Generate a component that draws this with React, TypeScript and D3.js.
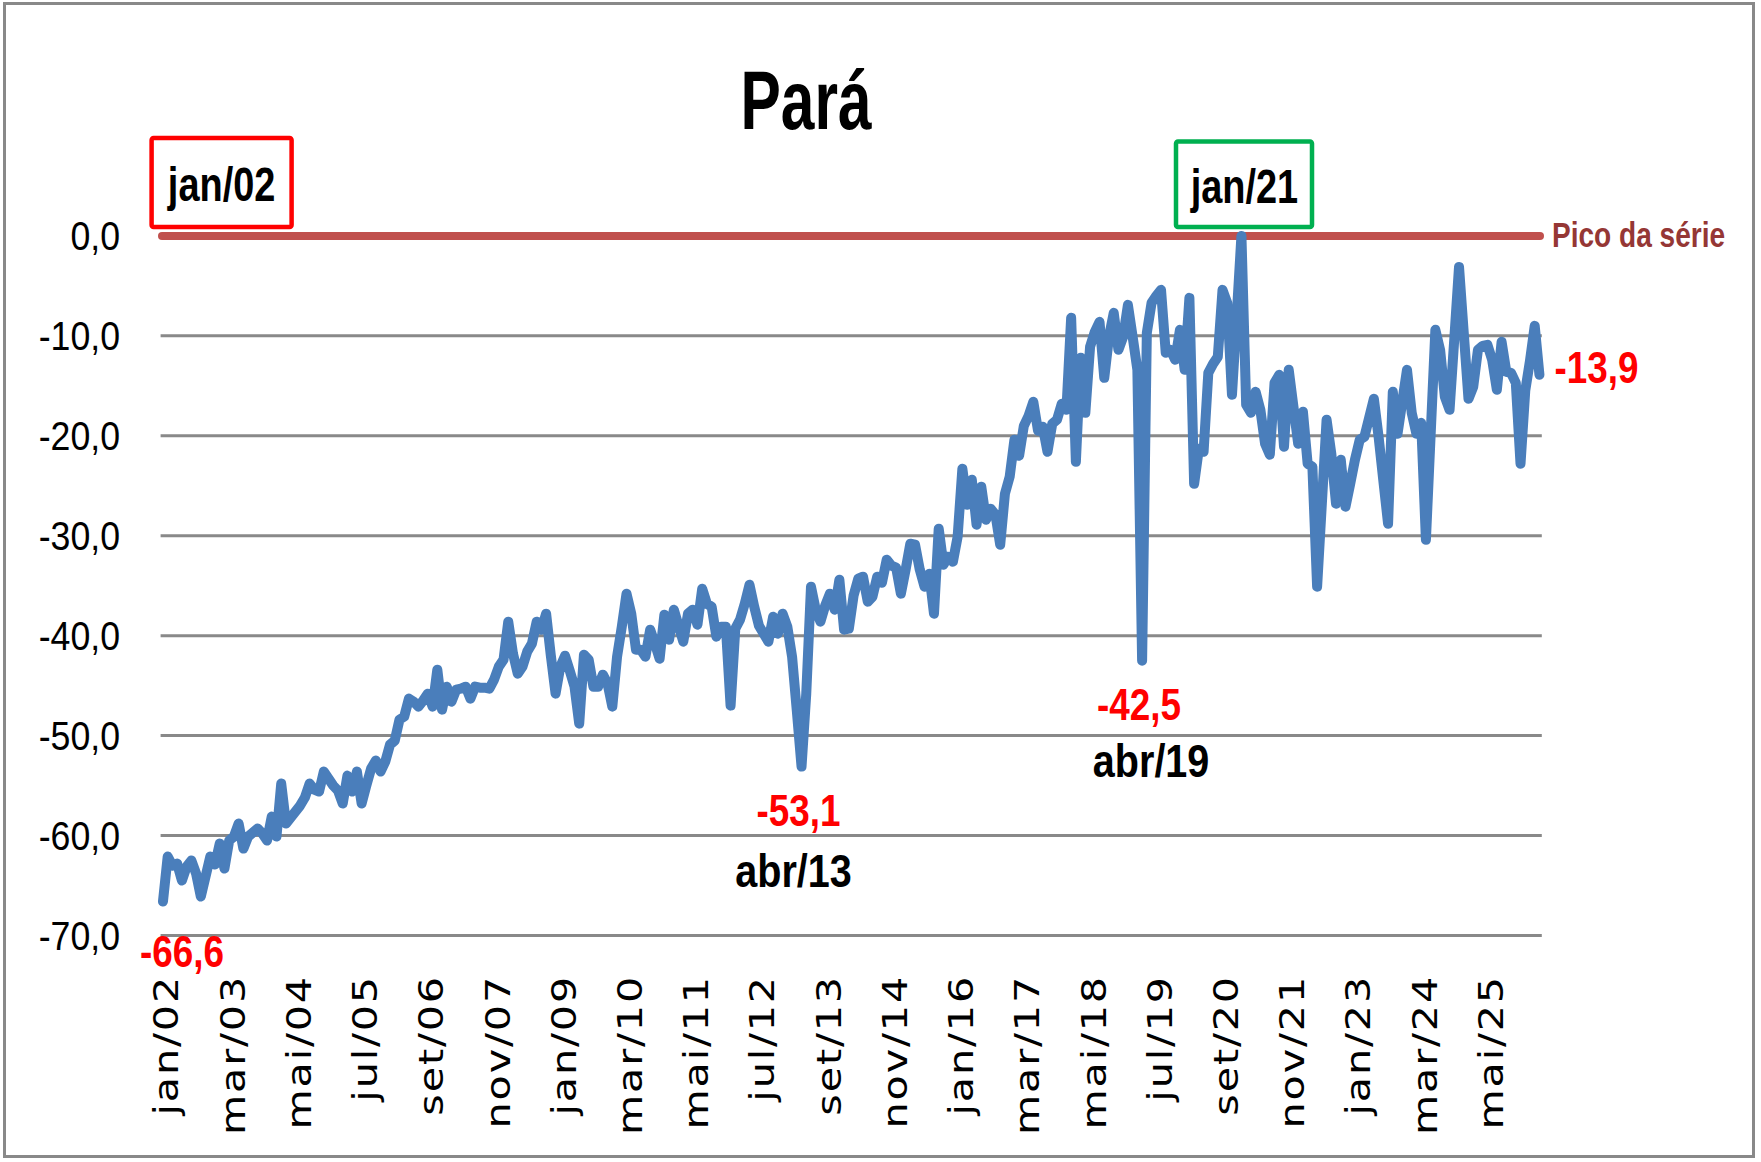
import React from 'react';
import * as d3 from 'd3';

const MONTHS = ['jan', 'fev', 'mar', 'abr', 'mai', 'jun', 'jul', 'ago', 'set', 'out', 'nov', 'dez'];
const START_YEAR = 2002;

// Monthly series, jan/02 .. abr/26 (one row per year)
const values: number[] = [
  -66.6, -62.1, -63.0, -62.8, -64.5, -63.1, -62.5, -63.8, -66.1, -64.1, -62.1, -62.9,
  -60.8, -63.3, -60.5, -60.1, -58.8, -61.3, -60.1, -59.7, -59.3, -59.8, -60.5, -58.1,
  -60.1, -54.8, -58.8, -58.2, -57.6, -57.0, -56.2, -54.8, -55.4, -55.6, -53.6, -54.3,
  -55.0, -55.5, -56.8, -54.0, -55.6, -53.6, -56.8, -55.0, -53.3, -52.5, -53.6, -52.6,
  -50.9, -50.5, -48.4, -48.1, -46.3, -46.6, -47.1, -46.5, -45.8, -47.1, -43.4, -47.4,
  -45.1, -46.6, -45.4, -45.3, -45.1, -46.3, -45.1, -45.2, -45.2, -45.3, -44.4, -43.1,
  -42.4, -38.6, -41.8, -43.8, -43.1, -41.6, -40.8, -38.6, -39.4, -37.8, -42.0, -45.8,
  -43.1, -42.0, -43.5, -45.1, -48.8, -41.9, -42.4, -45.1, -45.1, -43.9, -44.8, -47.1,
  -42.1, -39.1, -35.8, -37.8, -41.4, -41.4, -42.1, -39.4, -40.8, -42.3, -37.9, -40.4,
  -37.4, -39.0, -40.6, -37.8, -37.4, -38.9, -35.3, -36.8, -37.1, -40.1, -39.1, -39.1,
  -47.0, -39.3, -38.4, -36.8, -34.9, -37.1, -39.0, -39.8, -40.6, -38.1, -39.8, -37.8,
  -39.1, -42.1, -47.5, -53.1, -45.8, -35.1, -37.4, -38.6, -37.0, -35.8, -37.4, -34.4,
  -39.4, -39.3, -36.0, -34.3, -34.1, -36.6, -36.1, -34.1, -34.7, -32.4, -33.0, -33.2,
  -35.8, -33.4, -30.8, -30.9, -33.4, -35.1, -33.8, -37.8, -29.3, -32.9, -32.1, -32.6,
  -30.1, -23.3, -26.9, -24.4, -28.9, -25.1, -28.4, -27.3, -27.9, -30.9, -25.8, -24.1,
  -20.4, -22.0, -19.0, -18.0, -16.6, -19.5, -19.1, -21.6, -18.8, -18.4, -16.8, -17.4,
  -8.2, -22.6, -12.2, -17.7, -11.1, -9.6, -8.6, -14.2, -10.1, -7.7, -11.4, -10.1,
  -6.9, -10.1, -13.4, -42.5, -9.7, -6.7, -6.0, -5.4, -11.7, -11.4, -12.4, -9.4,
  -13.4, -6.2, -24.8, -21.3, -21.6, -13.7, -12.8, -12.1, -5.4, -6.7, -15.9, -8.0,
  0.0, -16.9, -17.7, -15.6, -17.4, -20.8, -21.9, -14.7, -13.9, -21.1, -13.4, -17.1,
  -20.8, -17.6, -22.8, -23.1, -35.1, -26.8, -18.4, -21.8, -26.8, -22.4, -27.1, -24.8,
  -22.4, -20.4, -20.1, -18.2, -16.3, -20.1, -24.5, -28.8, -15.6, -19.8, -16.6, -13.4,
  -17.7, -19.8, -18.7, -30.4, -19.9, -9.4, -11.4, -16.1, -17.4, -10.3, -3.1, -9.7,
  -16.3, -15.1, -11.4, -11.0, -10.9, -12.4, -15.4, -10.6, -13.6, -13.7, -14.7, -22.8,
  -15.5, -12.5, -9.0, -13.9,
];

const categories: string[] = values.map(
  (_, i) => `${MONTHS[i % 12]}/${String((START_YEAR + Math.floor(i / 12)) % 100).padStart(2, '0')}`
);

const xTickLabels = [
  'jan/02', 'mar/03', 'mai/04', 'jul/05', 'set/06', 'nov/07', 'jan/09', 'mar/10', 'mai/11', 'jul/12',
  'set/13', 'nov/14', 'jan/16', 'mar/17', 'mai/18', 'jul/19', 'set/20', 'nov/21', 'jan/23', 'mar/24', 'mai/25',
];
const yTicks = [0, -10, -20, -30, -40, -50, -60, -70];
const peakValue = 0;
const title = 'Pará';
const peakLabel = 'Pico da série';

const fmt = (v: number) => v.toFixed(1).replace('.', ',');

const SANS = "'Liberation Sans', Arial, sans-serif";

type TProps = {
  x: number;
  y: number;
  sx: number;
  size: number;
  anchor?: 'start' | 'middle' | 'end';
  bold?: boolean;
  fill?: string;
  children: React.ReactNode;
};

function T({ x, y, sx, size, anchor = 'middle', bold = false, fill = '#000', children }: TProps) {
  return (
    <text
      transform={`translate(${x},${y}) scale(${sx},1)`}
      textAnchor={anchor}
      dominantBaseline="central"
      fontFamily={SANS}
      fontWeight={bold ? 'bold' : 'normal'}
      fontSize={size}
      fill={fill}
    >
      {children}
    </text>
  );
}

export default function App() {
  const W = 1761;
  const H = 1162;
  const x = d3.scalePoint<string>().domain(categories).range([160.6, 1541.8]).padding(0.5);
  const y = d3.scaleLinear().domain([-70, 0]).range([935.5, 235.9]);
  const line = d3
    .line<number>()
    .x((_, i) => x(categories[i]) as number)
    .y((d) => y(d))
    .curve(d3.curveLinear);

  const px = (c: string) => x(c) as number;
  const first = categories[0];
  const last = categories[categories.length - 1];
  const idxMin13 = categories.indexOf('abr/13');
  const idxMin19 = categories.indexOf('abr/19');
  const idxPeak = categories.indexOf('jan/21');

  return (
    <svg
      width={W}
      height={H}
      style={{ position: 'absolute', left: 0, top: 0, display: 'block', background: '#fff' }}
    >
      <rect x={0} y={0} width={W} height={H} fill="#fff" />
      <rect x={4.5} y={3.5} width={1749} height={1153} fill="none" stroke="#898989" strokeWidth={3} />

      <T x={806} y={100} sx={0.72} size={84} bold>
        {title}
      </T>

      {/* gridlines */}
      {yTicks.filter((t) => t !== 0).map((t) => (
        <line key={t} x1={160.6} x2={1541.8} y1={y(t)} y2={y(t)} stroke="#898989" strokeWidth={3} />
      ))}

      {/* y tick labels */}
      {yTicks.map((t) => (
        <T key={t} x={120} y={y(t)} sx={0.87} size={41} anchor="end">
          {fmt(t)}
        </T>
      ))}

      {/* peak line */}
      <line x1={162} x2={1540} y1={y(peakValue)} y2={y(peakValue)} stroke="#C0504D" strokeWidth={8} strokeLinecap="round" />
      <T x={1552} y={y(peakValue) - 1} sx={0.78} size={36} anchor="start" bold fill="#953735">
        {peakLabel}
      </T>

      {/* series */}
      <path d={line(values) ?? ''} fill="none" stroke="#4A7EBB" strokeWidth={10} strokeLinejoin="round" strokeLinecap="round" />

      {/* x tick labels */}
      {xTickLabels.map((lab) => (
        <text
          key={lab}
          transform={`translate(${px(lab) + 4},975) rotate(-90) scale(1.25,1)`}
          textAnchor="end"
          dominantBaseline="central"
          fontFamily="'DejaVu Sans', sans-serif"
          fontSize={33}
          letterSpacing={1.5}
          fill="#000"
        >
          {lab}
        </text>
      ))}

      {/* boxes */}
      <rect x={151.6} y={138} width={140} height={89} fill="#fff" stroke="#FF0000" strokeWidth={4.5} rx={2} />
      <T x={221.6} y={184} sx={0.79} size={48} bold>
        {first}
      </T>
      <rect x={1176} y={141.5} width={136} height={85.5} fill="#fff" stroke="#00B050" strokeWidth={4.5} rx={2} />
      <T x={px(categories[idxPeak]) + 3} y={186} sx={0.79} size={48} bold>
        {categories[idxPeak]}
      </T>

      {/* annotations */}
      <T x={px(first) + 19} y={y(values[0]) + 50} sx={0.82} size={45} bold fill="#FF0000">
        {fmt(values[0])}
      </T>
      <T x={px(categories[idxMin13]) - 3} y={y(values[idxMin13]) + 44} sx={0.82} size={45} bold fill="#FF0000">
        {fmt(values[idxMin13])}
      </T>
      <T x={px(categories[idxMin13]) - 8} y={y(values[idxMin13]) + 104} sx={0.86} size={46} bold>
        {categories[idxMin13]}
      </T>
      <T x={px(categories[idxMin19]) - 3} y={y(values[idxMin19]) + 44} sx={0.82} size={45} bold fill="#FF0000">
        {fmt(values[idxMin19])}
      </T>
      <T x={px(categories[idxMin19]) + 9} y={y(values[idxMin19]) + 100} sx={0.86} size={46} bold>
        {categories[idxMin19]}
      </T>
      <T x={px(last) + 15} y={y(values[values.length - 1]) - 7} sx={0.82} size={45} anchor="start" bold fill="#FF0000">
        {fmt(values[values.length - 1])}
      </T>
    </svg>
  );
}
